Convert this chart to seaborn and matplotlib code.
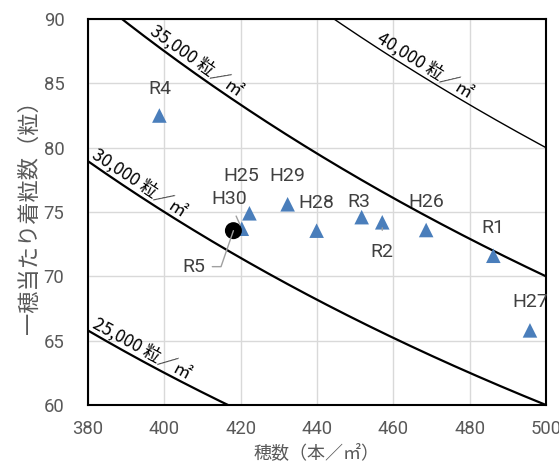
import numpy as np
import pandas as pd
import matplotlib
matplotlib.use("Agg")
import matplotlib.pyplot as plt
import seaborn as sns

# ---- data ----
names = ["R4", "H25", "H30", "H29", "H28", "R3", "R2", "H26", "R1", "H27"]
ear_counts = [398.7, 422.3, 420.3, 432.3, 439.9, 451.7, 457.1, 468.6, 486.2, 495.8]
grains_per_ear = [82.5, 74.9, 73.7, 75.6, 73.55, 74.6, 74.2, 73.6, 71.6, 65.8]
r5_name = "R5"
r5_x = [418.1]
r5_y = [73.55]
iso_levels = [25000, 30000, 35000, 40000]
iso_labels = ["25,000 粒／㎡", "30,000 粒／㎡", "35,000 粒／㎡", "40,000 粒／㎡"]
x_ticks = [380, 400, 420, 440, 460, 480, 500]
y_ticks = [60, 65, 70, 75, 80, 85, 90]
x_label = "穂数（本／㎡）"
y_label = "一穂当たり着粒数（粒）"

# ---- layout / style (not data) ----
label_offsets = {"R4": (1, 27), "H25": (-8, 37), "H30": (-13, 30), "H29": (0, 28.5),
                 "H28": (0, 28), "R3": (-3, 15), "R2": (0, -30), "H26": (0, 28.5),
                 "R1": (0, 27.5), "H27": (0, 28)}
r5_offset = (-40, -36)
iso_label_x = [393.0, 392.0, 407.0, 467.0]
iso_lw = [1.6, 1.6, 1.6, 1.0]

sns.set_theme(style="white")
plt.rcParams['font.family'] = ['Roboto', 'Noto Sans CJK JP', 'DejaVu Sans']
jp = ['Noto Sans CJK JP', 'DejaVu Sans']

fig = plt.figure(figsize=(5.59, 4.71), dpi=100)
ax = fig.add_axes([88 / 559, 1 - 405 / 471, (546 - 88) / 559, (405 - 19) / 471])
ax.set_xlim(380, 500)
ax.set_ylim(60, 90)

# iso-yield curves
xs = np.linspace(380, 500, 400)
for lvl, lw in zip(iso_levels, iso_lw):
    df_c = pd.DataFrame({"x": xs, "y": lvl / xs})
    sns.lineplot(data=df_c, x="x", y="y", ax=ax, color="black", lw=lw, zorder=3, sort=False)

# points
df = pd.DataFrame({"x": ear_counts, "y": grains_per_ear, "name": names})
sns.scatterplot(data=df, x="x", y="y", ax=ax, marker="^", s=110, color="#4A7EBB",
                edgecolor="none", zorder=4)
sns.scatterplot(x=r5_x, y=r5_y, ax=ax, marker="o", s=150, color="black",
                edgecolor="none", zorder=5)

label_color = "#404040"
leader_color = "#a0a0a0"
for n, x, y in zip(names, ear_counts, grains_per_ear):
    dx, dy = label_offsets[n]
    kw = {}
    if n == "H30":
        kw["arrowprops"] = dict(arrowstyle="-", color=leader_color, lw=1,
                                relpos=(0.6, 0), shrinkA=4, shrinkB=3)
    if n == "R2":
        kw["arrowprops"] = dict(arrowstyle="-", color=leader_color, lw=1,
                                relpos=(0.5, 1), shrinkA=7, shrinkB=4)
    ax.annotate(n, (x, y), xytext=(dx, dy), textcoords="offset pixels",
                ha="center", va="center", fontsize=14, color=label_color,
                zorder=6, **kw)

ax.annotate(r5_name, (r5_x[0], r5_y[0]), xytext=r5_offset, textcoords="offset pixels",
            ha="center", va="center", fontsize=14, color=label_color, zorder=6,
            arrowprops=dict(arrowstyle="-", color=leader_color, lw=1, relpos=(1, 0.5),
                            connectionstyle="angle,angleA=0,angleB=71,rad=0",
                            shrinkA=3, shrinkB=0))

# curve labels
for lvl, lab, lx in zip(iso_levels, iso_labels, iso_label_x):
    ly = lvl / lx
    p1 = ax.transData.transform((lx - 1, lvl / (lx - 1)))
    p2 = ax.transData.transform((lx + 1, lvl / (lx + 1)))
    ang = np.degrees(np.arctan2(p2[1] - p1[1], p2[0] - p1[0]))
    ax.annotate(lab, (lx, ly), xytext=(0, 1.5), textcoords="offset points",
                rotation=ang, rotation_mode="anchor", ha="center", va="bottom",
                fontsize=12.5, color="black", family=jp, zorder=6)

ax.set_xticks(x_ticks)
ax.set_yticks(y_ticks)
ax.tick_params(axis="x", length=0, labelsize=13.3, labelcolor="#595959", pad=11)
ax.tick_params(axis="y", length=0, labelsize=13.3, labelcolor="#595959", pad=17)
ax.grid(True, color="#d9d9d9", lw=1)
ax.set_axisbelow(True)
for sp in ax.spines.values():
    sp.set_color("black")
    sp.set_linewidth(1.5)
    sp.set_visible(True)
ax.set_xlabel(x_label, fontsize=13, color="#595959", family=jp, labelpad=4)
ax.set_ylabel(y_label, fontsize=16, color="#595959", family=jp, labelpad=2)

fig.savefig("out.png", dpi=100)
